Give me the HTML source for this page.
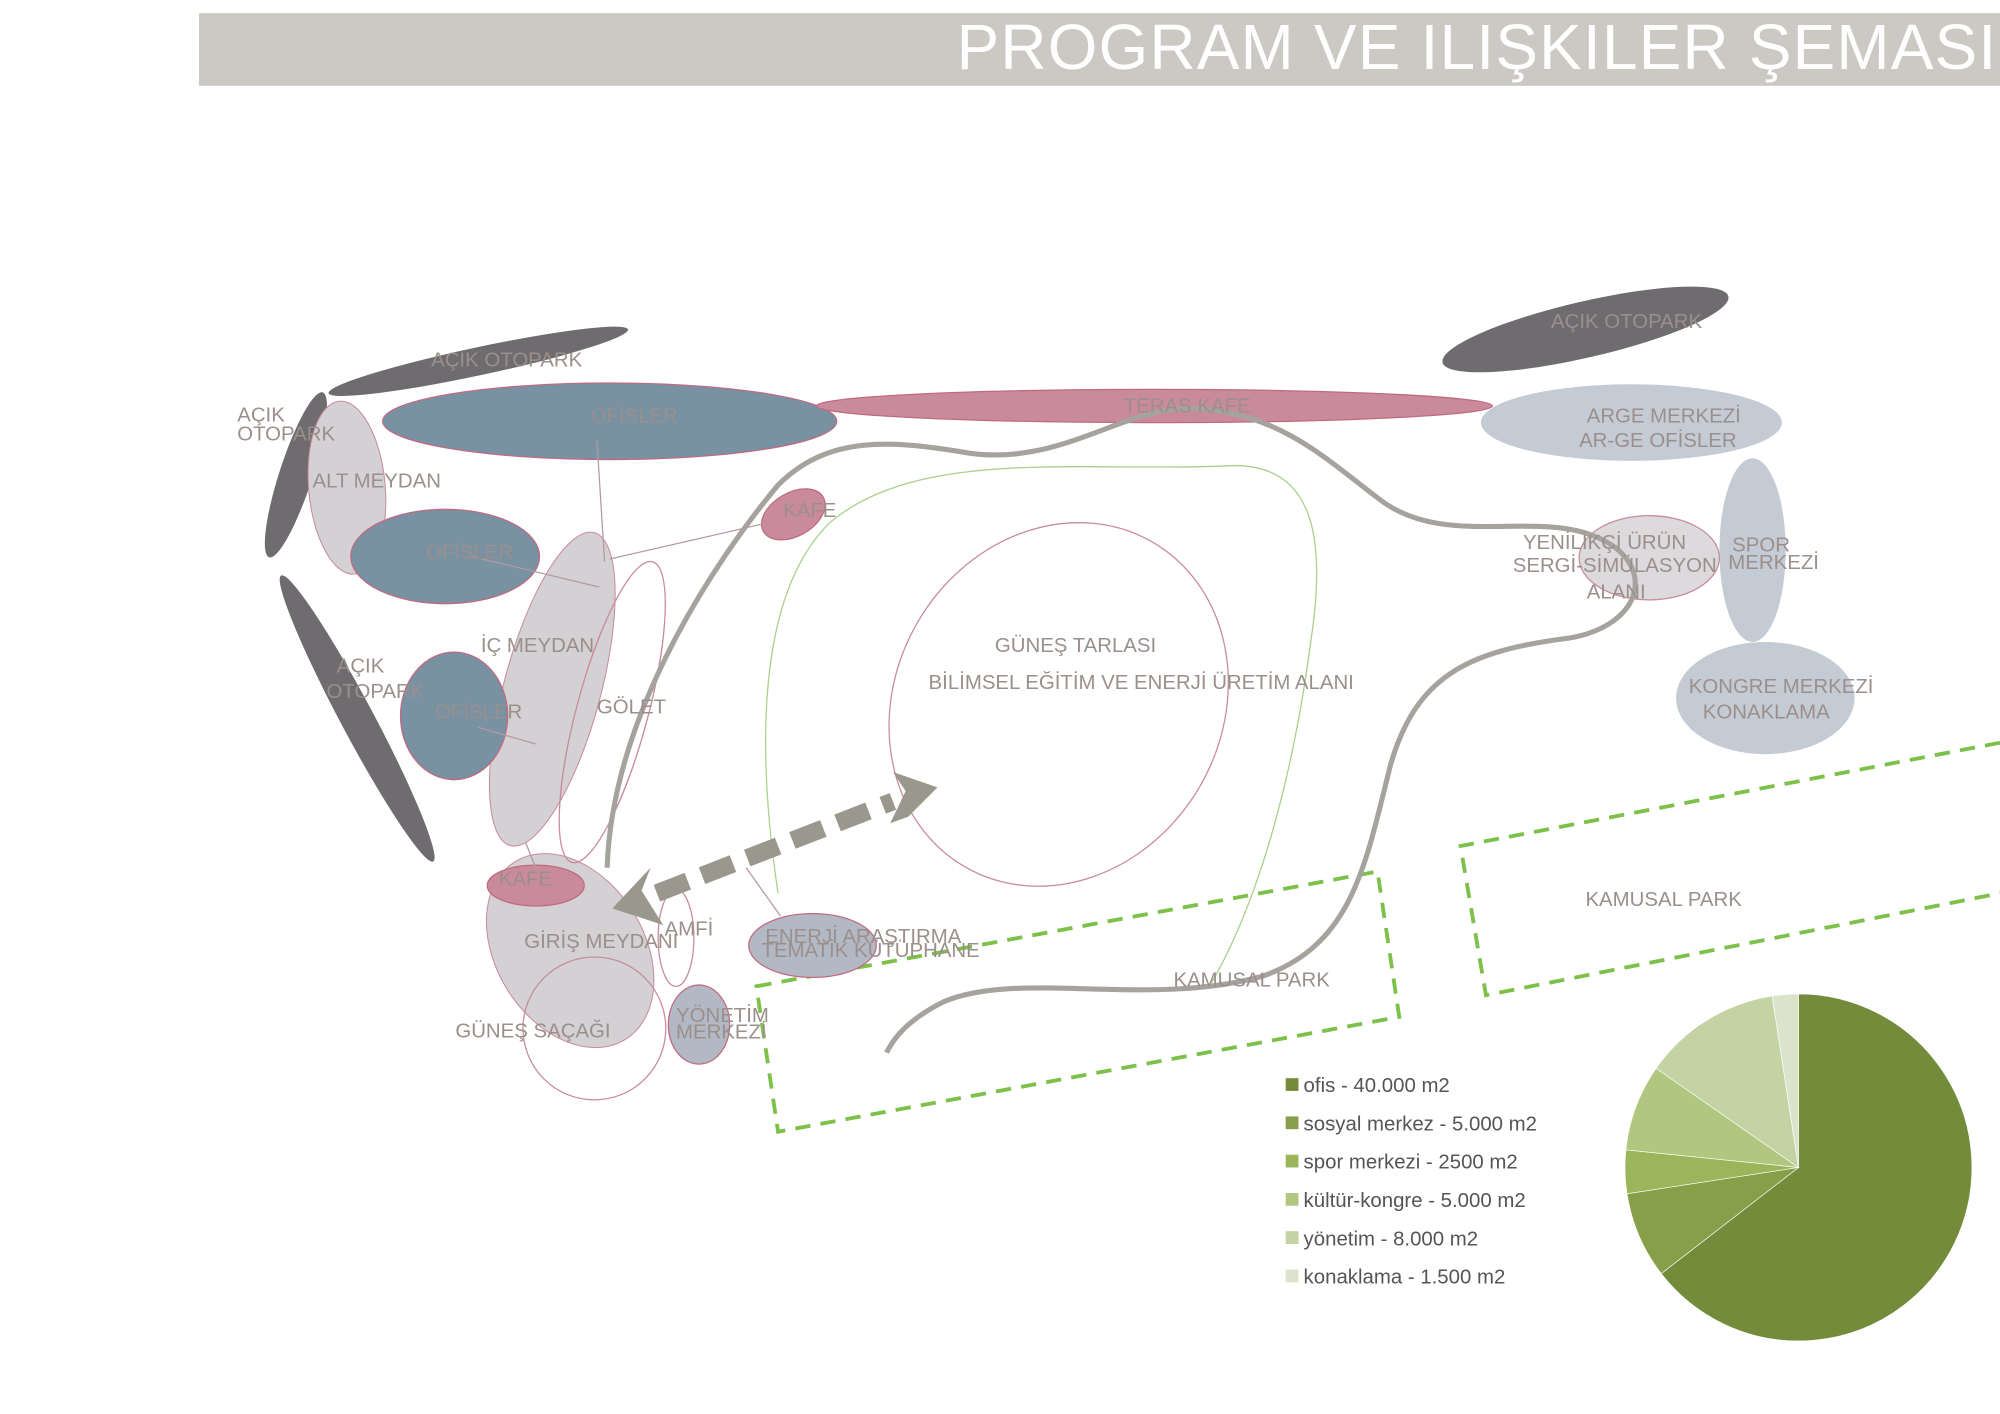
<!DOCTYPE html>
<html><head><meta charset="utf-8"><style>
html,body{margin:0;padding:0;background:#fff;}
svg{display:block;}
text{font-family:"Liberation Sans",sans-serif;}
.l{fill:#9b8f8c;font-size:16px;}
.lg{fill:#555;font-size:16px;}
</style></head><body>
<svg width="2000" height="1414" viewBox="0 0 1568 1108" xmlns="http://www.w3.org/2000/svg">
<rect x="0" y="0" width="1568" height="1108" fill="#fff"/>
<rect x="156" y="10" width="1412" height="57" fill="#ccc9c4"/>
<text x="1566" y="54" text-anchor="end" fill="#fff" font-size="50" style="letter-spacing:1px">PROGRAM VE ILIŞKILER ŞEMASI</text>

<!-- green dashed parks -->
<g fill="none" stroke="#7dc04a" stroke-width="3" stroke-dasharray="12 8">
<polygon points="593,773 1080,683 1097,797 610,887"/>
<polyline points="1568,582 1145,663 1165,780 1568,700"/>
</g>

<!-- dark parking -->
<g fill="#6e6c6e">
<ellipse cx="375" cy="283" rx="120" ry="11" transform="rotate(-12 375 283)"/>
<ellipse cx="232" cy="372" rx="68" ry="13" transform="rotate(-72 232 372)"/>
<ellipse cx="280" cy="563" rx="127" ry="13" transform="rotate(62 280 563)"/>
<ellipse cx="1243" cy="258" rx="115" ry="22" transform="rotate(-13 1243 258)"/>
</g>

<!-- light gray -->
<g fill="#d3d1d3" stroke="#c98b9b" stroke-width="0.8">
<ellipse cx="272" cy="382" rx="30" ry="68" transform="rotate(-5 272 382)"/>
<ellipse cx="433" cy="540" rx="38" ry="127" transform="rotate(15 433 540)"/>
<ellipse cx="447" cy="745" rx="58" ry="82" transform="rotate(-32 447 745)"/>
</g>
<ellipse cx="480" cy="558" rx="28" ry="122" transform="rotate(15 480 558)" fill="none" stroke="#c98b9b" stroke-width="1"/>

<!-- blue offices -->
<g fill="#7891a3" stroke="#c06a80" stroke-width="1">
<ellipse cx="478" cy="330" rx="178" ry="30"/>
<ellipse cx="349" cy="436" rx="74" ry="37"/>
<ellipse cx="356" cy="561" rx="42" ry="50"/>
</g>

<!-- teras kafe -->
<ellipse cx="905" cy="318" rx="265" ry="13" fill="#c98b9b" stroke="#c06a80"/>

<!-- right cluster -->
<g fill="#c5cbd4">
<ellipse cx="1279" cy="331" rx="118" ry="30"/>
<ellipse cx="1374" cy="431" rx="26" ry="72"/>
<ellipse cx="1384" cy="547" rx="70" ry="44"/>
</g>
<ellipse cx="1293" cy="437" rx="55" ry="33" fill="#d3d1d3" stroke="#c98b9b" fill-opacity="0.8"/>

<!-- small kafes etc -->
<ellipse cx="622" cy="403" rx="27" ry="17" transform="rotate(-30 622 403)" fill="#c98b9b" stroke="#c06a80"/>
<ellipse cx="420" cy="694" rx="38" ry="16" fill="#c98b9b" stroke="#c06a80"/>
<ellipse cx="637" cy="741" rx="50" ry="25" fill="#b3b9c4" stroke="#c06a80"/>
<ellipse cx="548" cy="803" rx="24" ry="31" fill="#b3b9c4" stroke="#c06a80"/>
<circle cx="466" cy="806" r="56" fill="none" stroke="#c98b9b"/>
<ellipse cx="530" cy="735" rx="14" ry="38" fill="none" stroke="#c98b9b"/>

<!-- güneş tarlası -->
<ellipse cx="830" cy="552" rx="128" ry="147" transform="rotate(30 830 552)" fill="none" stroke="#c98b9b" stroke-width="1"/>
<path d="M610,700 C595,600 590,470 650,410 C720,350 850,370 960,365 C1030,360 1040,420 1028,500 C1015,600 990,700 950,770" fill="none" stroke="#a8d08a" stroke-width="1"/>

<!-- thick gray path -->
<path d="M476,680 C480,560 560,440 610,380 C650,340 700,345 760,355 C830,365 880,320 930,320 C1000,320 1040,360 1080,390 C1130,430 1200,400 1250,420 C1300,440 1290,490 1230,500 C1150,510 1110,530 1090,600 C1070,680 1060,740 990,765 C900,790 800,760 740,785 C710,800 700,815 695,825" fill="none" stroke="#a6a39e" stroke-width="4"/>

<!-- thin lines -->
<g stroke="#b59aa0" stroke-width="1" fill="none">
<line x1="468" y1="345" x2="474" y2="440"/>
<line x1="478" y1="438" x2="600" y2="410"/>
<line x1="370" y1="436" x2="470" y2="460"/>
<line x1="375" y1="570" x2="420" y2="583"/>
<line x1="412" y1="660" x2="420" y2="680"/>
<line x1="585" y1="680" x2="612" y2="718"/>
</g>

<!-- dashed arrow -->
<g fill="#9a978d">
<line x1="515" y1="700" x2="700" y2="628" stroke="#9a978d" stroke-width="14" stroke-dasharray="26 12"/>
<polygon points="480,712 510,680 503,698 520,725 505,720"/>
<polygon points="735,617 700,605 710,620 698,645 712,640"/>
</g>

<!-- labels -->
<g class="l">
<text x="338" y="287">AÇIK OTOPARK</text>
<text x="186" y="330">AÇIK</text>
<text x="186" y="345">OTOPARK</text>
<text x="463" y="331">OFİSLER</text>
<text x="881" y="323">TERAS KAFE</text>
<text x="1216" y="257">AÇIK OTOPARK</text>
<text x="1244" y="331">ARGE MERKEZİ</text>
<text x="1238" y="350">AR-GE OFİSLER</text>
<text x="245" y="382">ALT MEYDAN</text>
<text x="334" y="438">OFİSLER</text>
<text x="614" y="405">KAFE</text>
<text x="1194" y="430">YENİLİKÇİ ÜRÜN</text>
<text x="1186" y="448">SERGİ-SİMÜLASYON</text>
<text x="1244" y="469">ALANI</text>
<text x="1358" y="432">SPOR</text>
<text x="1355" y="446">MERKEZİ</text>
<text x="377" y="511">İÇ MEYDAN</text>
<text x="780" y="511">GÜNEŞ TARLASI</text>
<text x="728" y="540">BİLİMSEL EĞİTİM VE ENERJİ ÜRETİM ALANI</text>
<text x="1324" y="543">KONGRE MERKEZİ</text>
<text x="1335" y="563">KONAKLAMA</text>
<text x="264" y="527">AÇIK</text>
<text x="256" y="547">OTOPARK</text>
<text x="341" y="563">OFİSLER</text>
<text x="468" y="559">GÖLET</text>
<text x="391" y="694">KAFE</text>
<text x="1243" y="710">KAMUSAL PARK</text>
<text x="411" y="743">GİRİŞ MEYDANI</text>
<text x="521" y="733">AMFİ</text>
<text x="600" y="739">ENERJİ ARAŞTIRMA</text>
<text x="597" y="750">TEMATİK KÜTÜPHANE</text>
<text x="920" y="773">KAMUSAL PARK</text>
<text x="357" y="813">GÜNEŞ SAÇAĞI</text>
<text x="530" y="801">YÖNETİM</text>
<text x="530" y="814">MERKEZİ</text>
</g>

<!-- legend -->
<g>
<rect x="1008" y="845" width="10" height="10" fill="#728c3c"/>
<rect x="1008" y="875" width="10" height="10" fill="#86a04a"/>
<rect x="1008" y="905" width="10" height="10" fill="#9bb55a"/>
<rect x="1008" y="935" width="10" height="10" fill="#b0c77f"/>
<rect x="1008" y="965" width="10" height="10" fill="#c4d3a3"/>
<rect x="1008" y="995" width="10" height="10" fill="#dbe3cb"/>
</g>
<g class="lg">
<text x="1022" y="856">ofis - 40.000 m2</text>
<text x="1022" y="886">sosyal merkez - 5.000 m2</text>
<text x="1022" y="916">spor merkezi - 2500 m2</text>
<text x="1022" y="946">kültür-kongre - 5.000 m2</text>
<text x="1022" y="976">yönetim - 8.000 m2</text>
<text x="1022" y="1006">konaklama - 1.500 m2</text>
</g>

<!-- pie -->
<g stroke="#fff" stroke-width="0.5">
<path d="M1410,915 L1410,779 A136,136 0 1,1 1302.4,998.2 Z" fill="#728c3c"/>
<path d="M1410,915 L1302.4,998.2 A136,136 0 0,1 1275.6,935.6 Z" fill="#86a04a"/>
<path d="M1410,915 L1275.6,935.6 A136,136 0 0,1 1274.7,901.2 Z" fill="#9bb55a"/>
<path d="M1410,915 L1274.7,901.2 A136,136 0 0,1 1298.4,837.3 Z" fill="#b0c77f"/>
<path d="M1410,915 L1298.4,837.3 A136,136 0 0,1 1389.4,780.6 Z" fill="#c4d3a3"/>
<path d="M1410,915 L1389.4,780.6 A136,136 0 0,1 1410,779 Z" fill="#dbe3cb"/>
</g>
</svg>
</body></html>
